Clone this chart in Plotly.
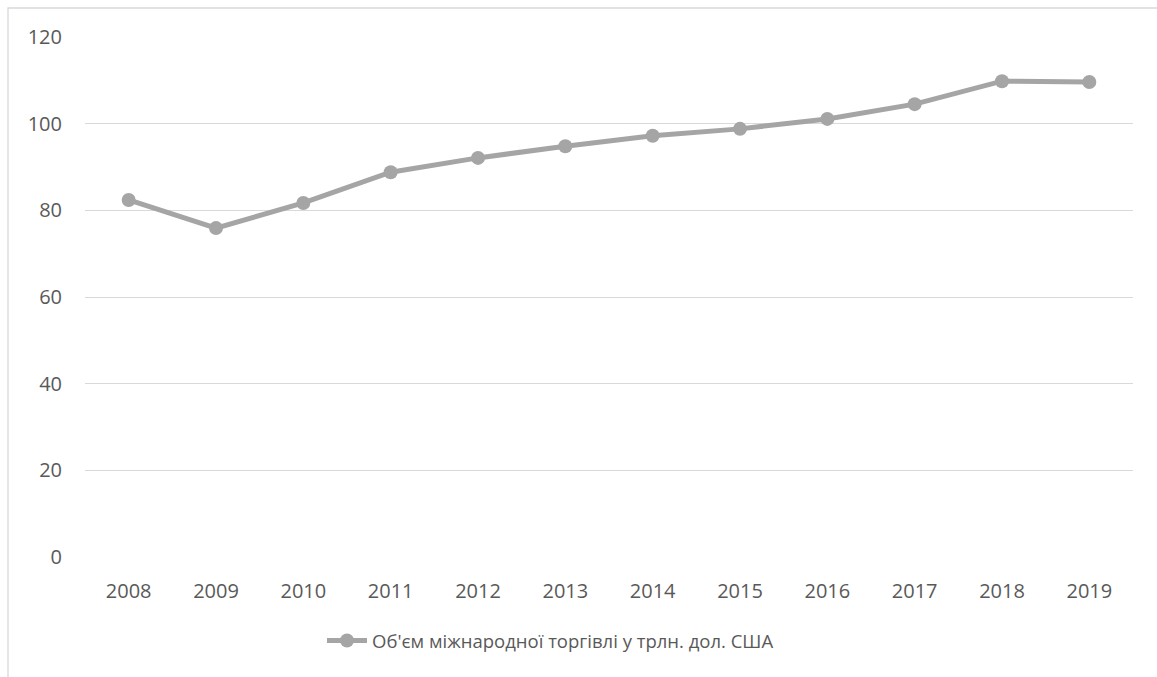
import plotly.graph_objects as go

years = ["2008", "2009", "2010", "2011", "2012", "2013", "2014", "2015", "2016", "2017", "2018", "2019"]
values = [82.4, 75.9, 81.7, 88.8, 92.1, 94.8, 97.2, 98.8, 101.1, 104.5, 109.8, 109.6]
series_name = "Об'єм міжнародної торгівлі у трлн. дол. США"
y_ticks = [0, 20, 40, 60, 80, 100, 120]

fig = go.Figure()
fig.add_trace(go.Scatter(
    x=years, y=values, mode="lines+markers", name=series_name,
    line=dict(color="#a5a5a5", width=5),
    marker=dict(color="#a5a5a5", size=14),
))

W, H = 1157, 677
ml, mr, mt, mb = 85, 24, 37, 120
pw, ph = W - ml - mr, H - mt - mb

fig.update_layout(
    width=W, height=H,
    margin=dict(l=ml, r=mr, t=mt, b=mb),
    paper_bgcolor="white", plot_bgcolor="white",
    font=dict(family="Open Sans, Liberation Sans, sans-serif", size=20, color="#595959"),
    showlegend=True,
    legend=dict(orientation="h", x=(322 - ml) / pw, xanchor="left", y=(557 - 641) / ph, yanchor="middle",
                font=dict(size=18.5, color="#595959"), itemwidth=40),
    xaxis=dict(type="category", range=[-0.5, 11.5], showgrid=False, zeroline=False,
               showline=False, ticks="", ticklabelstandoff=20),
    yaxis=dict(range=[0, 120], tickvals=y_ticks, showgrid=True, gridcolor="#d9d9d9", gridwidth=1.3,
               zeroline=False, showline=False, ticks="", ticklabelstandoff=22),
    shapes=[dict(type="rect", xref="paper", yref="paper",
                 x0=(8 - ml) / pw, x1=1.2, y0=-0.5, y1=1 + (mt - 8) / ph,
                 line=dict(color="#d9d9d9", width=1.3), layer="below")],
)
fig.write_html("out.html")
